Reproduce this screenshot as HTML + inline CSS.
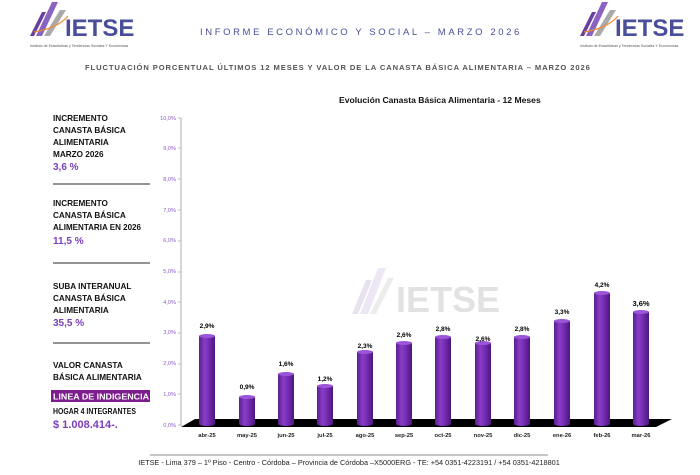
<!DOCTYPE html>
<html><head><meta charset="utf-8"><style>
body{margin:0;background:#fff;width:700px;height:470px;overflow:hidden;font-family:"Liberation Sans",sans-serif}
</style></head><body>
<svg width="700" height="470" xmlns="http://www.w3.org/2000/svg" font-family="Liberation Sans, sans-serif">
<defs>
<linearGradient id="bg" x1="0" x2="1">
<stop offset="0" stop-color="#5a1f90"/><stop offset="0.35" stop-color="#8a3cc8"/><stop offset="0.7" stop-color="#6c28a8"/><stop offset="1" stop-color="#4a1878"/></linearGradient>
</defs>
<g transform="translate(28,2)">
<polygon points="2,34 14,10 18,10 6,34" fill="#6a3fa0"/>
<polygon points="8,34 24,0 30,0 14,34" fill="#8a63c0"/>
<polygon points="16,34 32,8 38,8 22,34" fill="#aaa"/>
<path d="M6,30 Q30,26 40,14" stroke="#f08a30" stroke-width="1.2" fill="none"/>
<text x="37" y="34" font-size="24" font-weight="bold" fill="#4a4f9a">IETSE</text>
<text x="2" y="45" font-size="3.6" fill="#555">Instituto de Estadísticas y Tendencias Sociales Y Económicas</text>
</g>
<g transform="translate(578,2)">
<polygon points="2,34 14,10 18,10 6,34" fill="#6a3fa0"/>
<polygon points="8,34 24,0 30,0 14,34" fill="#8a63c0"/>
<polygon points="16,34 32,8 38,8 22,34" fill="#aaa"/>
<path d="M6,30 Q30,26 40,14" stroke="#f08a30" stroke-width="1.2" fill="none"/>
<text x="37" y="34" font-size="24" font-weight="bold" fill="#4a4f9a">IETSE</text>
<text x="2" y="45" font-size="3.6" fill="#555">Instituto de Estadísticas y Tendencias Sociales Y Económicas</text>
</g>
<text x="200" y="35" font-size="9.5" fill="#4a4f9a" letter-spacing="2.6">INFORME ECONÓMICO Y SOCIAL – MARZO 2026</text>
<text x="85" y="70" font-size="7.6" font-weight="bold" fill="#555" letter-spacing="0.9">FLUCTUACIÓN PORCENTUAL ÚLTIMOS 12 MESES Y VALOR DE LA  CANASTA BÁSICA ALIMENTARIA – MARZO 2026</text>
<g opacity="0.15" transform="translate(352,262)">
<polygon points="0,52 14,18 20,18 6,52" fill="#6a3fa0"/>
<polygon points="8,52 26,6 34,6 16,52" fill="#8a63c0"/>
<polygon points="18,52 36,16 42,16 24,52" fill="#888"/>
<text x="44" y="50" font-size="36" font-weight="bold" fill="#444">IETSE</text>
</g>
<g font-size="8.2" font-weight="bold" fill="#111">
<text x="53" y="121">INCREMENTO</text><text x="53" y="133">CANASTA BÁSICA</text><text x="53" y="145">ALIMENTARIA</text><text x="53" y="157">MARZO 2026</text>
<text x="53" y="206">INCREMENTO</text><text x="53" y="218">CANASTA BÁSICA</text><text x="53" y="230" textLength="88" lengthAdjust="spacingAndGlyphs">ALIMENTARIA EN 2026</text>
<text x="53" y="289">SUBA INTERANUAL</text><text x="53" y="301">CANASTA BÁSICA</text><text x="53" y="313">ALIMENTARIA</text>
<text x="53" y="368">VALOR CANASTA</text><text x="53" y="380">BÁSICA ALIMENTARIA</text>
<text x="53" y="414" textLength="83" lengthAdjust="spacingAndGlyphs">HOGAR 4 INTEGRANTES</text>
</g>
<g font-weight="bold" fill="#7a3dbb">
<text x="53" y="170" font-size="10">3,6 %</text>
<text x="53" y="244" font-size="10">11,5 %</text>
<text x="53" y="326" font-size="10">35,5 %</text>
<text x="53" y="428" font-size="11">$ 1.008.414-.</text>
</g>
<rect x="51" y="390" width="99" height="12" fill="#7c1e8c"/>
<text x="53" y="399.5" font-size="8" font-weight="bold" fill="#fff" textLength="96" lengthAdjust="spacingAndGlyphs">LINEA DE INDIGENCIA</text>
<g stroke="#555" stroke-width="1.3"><line x1="53" y1="184" x2="150" y2="184"/><line x1="53" y1="263" x2="150" y2="263"/><line x1="53" y1="343" x2="150" y2="343"/></g>
<text x="339" y="103" font-size="8.6" font-weight="bold" fill="#111">Evolución Canasta Básica Alimentaria - 12 Meses</text>
<line x1="181" y1="118" x2="181" y2="426" stroke="#999" stroke-width="0.8"/>
<g font-size="5.6" fill="#8a5cc8" text-anchor="end">
<text x="176" y="120">10,0%</text><text x="176" y="150">9,0%</text><text x="176" y="181">8,0%</text><text x="176" y="212">7,0%</text><text x="176" y="242">6,0%</text><text x="176" y="273">5,0%</text><text x="176" y="304">4,0%</text><text x="176" y="334">3,0%</text><text x="176" y="365">2,0%</text><text x="176" y="396">1,0%</text><text x="176" y="427">0,0%</text>
</g>
<g stroke="#999" stroke-width="0.6"><line x1="178" y1="118" x2="181" y2="118"/><line x1="178" y1="148" x2="181" y2="148"/><line x1="178" y1="179" x2="181" y2="179"/><line x1="178" y1="210" x2="181" y2="210"/><line x1="178" y1="241" x2="181" y2="241"/><line x1="178" y1="272" x2="181" y2="272"/><line x1="178" y1="302" x2="181" y2="302"/><line x1="178" y1="333" x2="181" y2="333"/><line x1="178" y1="364" x2="181" y2="364"/><line x1="178" y1="394" x2="181" y2="394"/><line x1="178" y1="425" x2="181" y2="425"/></g>
<polygon points="195,419 672,419 656,427 181,427" fill="#000"/>
<g font-size="5.8" font-weight="bold" fill="#222" text-anchor="middle">
<text x="207" y="437">abr-25</text><text x="247" y="437">may-25</text><text x="286" y="437">jun-25</text><text x="325" y="437">jul-25</text><text x="365" y="437">ago-25</text><text x="404" y="437">sep-25</text><text x="443" y="437">oct-25</text><text x="483" y="437">nov-25</text><text x="522" y="437">dic-25</text><text x="562" y="437">ene-26</text><text x="602" y="437">feb-26</text><text x="641" y="437">mar-26</text>
</g>
<line x1="150" y1="455" x2="548" y2="455" stroke="#666" stroke-width="0.7"/>
<text x="349" y="465" font-size="7.3" fill="#222" text-anchor="middle">IETSE - Lima 379 – 1º Piso - Centro - Córdoba – Provincia de Córdoba –X5000ERG - TE: +54 0351-4223191 / +54 0351-4218801</text>
<g>
<path d="M199,336 v88 a8,2 0 0 0 16,0 v-88 z" fill="url(#bg)"/><ellipse cx="207" cy="336" rx="8" ry="2" fill="#9a55d8"/><text x="207" y="328" font-size="6.5" font-weight="bold" text-anchor="middle">2,9%</text>
<path d="M239,397 v27 a8,2 0 0 0 16,0 v-27 z" fill="url(#bg)"/><ellipse cx="247" cy="397" rx="8" ry="2" fill="#9a55d8"/><text x="247" y="389" font-size="6.5" font-weight="bold" text-anchor="middle">0,9%</text>
<path d="M278,374 v50 a8,2 0 0 0 16,0 v-50 z" fill="url(#bg)"/><ellipse cx="286" cy="374" rx="8" ry="2" fill="#9a55d8"/><text x="286" y="366" font-size="6.5" font-weight="bold" text-anchor="middle">1,6%</text>
<path d="M317,386 v38 a8,2 0 0 0 16,0 v-38 z" fill="url(#bg)"/><ellipse cx="325" cy="386" rx="8" ry="2" fill="#9a55d8"/><text x="325" y="381" font-size="6.5" font-weight="bold" text-anchor="middle">1,2%</text>
<path d="M357,352 v72 a8,2 0 0 0 16,0 v-72 z" fill="url(#bg)"/><ellipse cx="365" cy="352" rx="8" ry="2" fill="#9a55d8"/><text x="365" y="348" font-size="6.5" font-weight="bold" text-anchor="middle">2,3%</text>
<path d="M396,343 v81 a8,2 0 0 0 16,0 v-81 z" fill="url(#bg)"/><ellipse cx="404" cy="343" rx="8" ry="2" fill="#9a55d8"/><text x="404" y="337" font-size="6.5" font-weight="bold" text-anchor="middle">2,6%</text>
<path d="M435,337 v87 a8,2 0 0 0 16,0 v-87 z" fill="url(#bg)"/><ellipse cx="443" cy="337" rx="8" ry="2" fill="#9a55d8"/><text x="443" y="331" font-size="6.5" font-weight="bold" text-anchor="middle">2,8%</text>
<path d="M475,343 v81 a8,2 0 0 0 16,0 v-81 z" fill="url(#bg)"/><ellipse cx="483" cy="343" rx="8" ry="2" fill="#9a55d8"/><text x="483" y="341" font-size="6.5" font-weight="bold" text-anchor="middle">2,6%</text>
<path d="M514,337 v87 a8,2 0 0 0 16,0 v-87 z" fill="url(#bg)"/><ellipse cx="522" cy="337" rx="8" ry="2" fill="#9a55d8"/><text x="522" y="331" font-size="6.5" font-weight="bold" text-anchor="middle">2,8%</text>
<path d="M554,321 v103 a8,2 0 0 0 16,0 v-103 z" fill="url(#bg)"/><ellipse cx="562" cy="321" rx="8" ry="2" fill="#9a55d8"/><text x="562" y="314" font-size="6.5" font-weight="bold" text-anchor="middle">3,3%</text>
<path d="M594,293 v131 a8,2 0 0 0 16,0 v-131 z" fill="url(#bg)"/><ellipse cx="602" cy="293" rx="8" ry="2" fill="#9a55d8"/><text x="602" y="287" font-size="6.5" font-weight="bold" text-anchor="middle">4,2%</text>
<path d="M633,312 v112 a8,2 0 0 0 16,0 v-112 z" fill="url(#bg)"/><ellipse cx="641" cy="312" rx="8" ry="2" fill="#9a55d8"/><text x="641" y="306" font-size="7.5" font-weight="bold" text-anchor="middle">3,6%</text>
</g>
</svg>
</body></html>
